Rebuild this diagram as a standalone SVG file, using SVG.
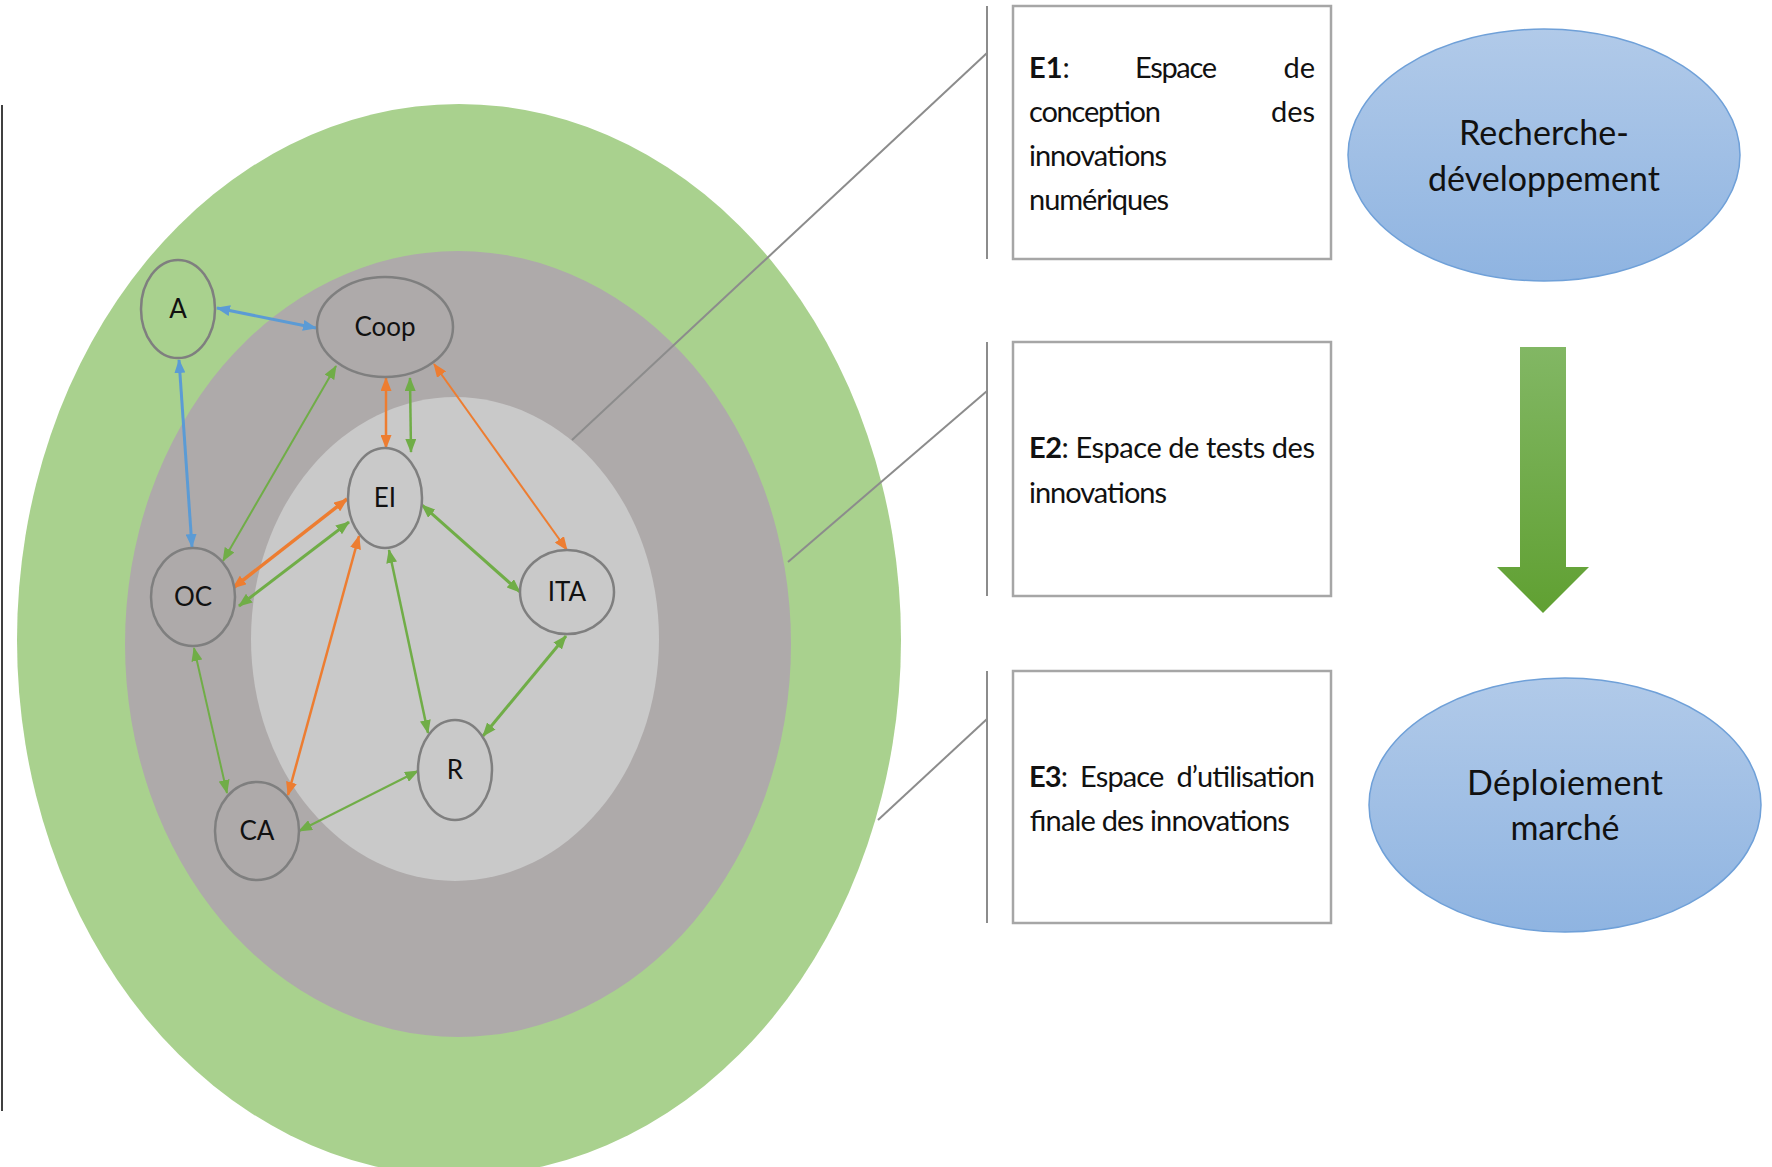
<svg xmlns="http://www.w3.org/2000/svg" width="1772" height="1167" viewBox="0 0 1772 1167">
  <defs>
    <style>
      .node { stroke: #7f7f7f; stroke-width: 2.5; }
      .lbl { font-family: Lato, "Liberation Sans", sans-serif; font-size: 26px; fill: #111; text-anchor: middle; }
      .bx { fill: #ffffff; stroke: #a6a6a6; stroke-width: 2.5; }
      .vl { stroke: #8c8c8c; stroke-width: 2; fill: none; }
      .tx { font-family: Lato, "Liberation Sans", sans-serif; font-size: 29px; fill: #111; }
      .big { font-family: Lato, "Liberation Sans", sans-serif; font-size: 34px; fill: #111; text-anchor: middle; }
      .cb { fill: none; stroke: #5b9bd5; marker-start: url(#mb); marker-end: url(#mb); }
      .cg { fill: none; stroke: #70ad47; marker-start: url(#mg); marker-end: url(#mg); }
      .co { fill: none; stroke: #ed7d31; marker-start: url(#mo); marker-end: url(#mo); }
    </style>
    <marker id="mb" viewBox="0 0 14 11" refX="13" refY="5.5" markerWidth="14" markerHeight="11" markerUnits="userSpaceOnUse" orient="auto-start-reverse"><path d="M0,0 L14,5.5 L0,11 z" fill="#5b9bd5"/></marker>
    <marker id="mg" viewBox="0 0 14 11" refX="13" refY="5.5" markerWidth="14" markerHeight="11" markerUnits="userSpaceOnUse" orient="auto-start-reverse"><path d="M0,0 L14,5.5 L0,11 z" fill="#70ad47"/></marker>
    <marker id="mo" viewBox="0 0 14 11" refX="13" refY="5.5" markerWidth="14" markerHeight="11" markerUnits="userSpaceOnUse" orient="auto-start-reverse"><path d="M0,0 L14,5.5 L0,11 z" fill="#ed7d31"/></marker>
    <linearGradient id="gBlue" x1="0" y1="0" x2="0" y2="1">
      <stop offset="0" stop-color="#b1cae9"/>
      <stop offset="1" stop-color="#8fb4e1"/>
    </linearGradient>
    <linearGradient id="gArrow" x1="0" y1="0" x2="0" y2="1">
      <stop offset="0" stop-color="#82b764"/>
      <stop offset="1" stop-color="#60a032"/>
    </linearGradient>
  </defs>

  <rect x="0" y="0" width="1772" height="1167" fill="#ffffff"/>

  <!-- left frame edge -->
  <line x1="2" y1="105" x2="2" y2="1111" stroke="#404040" stroke-width="2"/>

  <!-- concentric spaces -->
  <g id="spaces">
    <ellipse id="space-E3" cx="459" cy="640" rx="442" ry="536" fill="#a9d18e"/>
    <ellipse id="space-E2" cx="458" cy="644" rx="333" ry="393" fill="#aeaaaa"/>
    <ellipse id="space-E1" cx="455" cy="639" rx="204" ry="242" fill="#c9c9c9"/>
  </g>

  <!-- callout lines -->
  <g id="callouts">
    <line class="vl" x1="572" y1="440" x2="987" y2="53"/>
    <line class="vl" x1="788" y1="562" x2="987" y2="391"/>
    <line class="vl" x1="878" y1="820" x2="987" y2="719"/>
    <line class="vl" x1="987" y1="6" x2="987" y2="259"/>
    <line class="vl" x1="987" y1="342" x2="987" y2="596"/>
    <line class="vl" x1="987" y1="671" x2="987" y2="923"/>
  </g>

  <!-- connectors -->
  <g id="connectors">
    <line class="cb" stroke-width="3" x1="217" y1="308" x2="316" y2="328"/>
    <line class="cb" stroke-width="3" x1="179" y1="360" x2="192" y2="547"/>
    <line class="cg" stroke-width="2" x1="336" y1="366" x2="223" y2="561"/>
    <line class="cg" stroke-width="2.5" x1="410" y1="378" x2="411" y2="452"/>
    <line class="cg" stroke-width="3" x1="349" y1="522" x2="239" y2="606"/>
    <line class="cg" stroke-width="3" x1="422" y1="505" x2="520" y2="592"/>
    <line class="cg" stroke-width="2.5" x1="389" y1="550" x2="428" y2="733"/>
    <line class="cg" stroke-width="3" x1="566" y1="636" x2="483" y2="736"/>
    <line class="cg" stroke-width="2" x1="194" y1="648" x2="227" y2="793"/>
    <line class="cg" stroke-width="2" x1="299" y1="831" x2="418" y2="771"/>
    <line class="co" stroke-width="2.5" x1="386" y1="378" x2="386" y2="448"/>
    <line class="co" stroke-width="2" x1="434" y1="364" x2="567" y2="550"/>
    <line class="co" stroke-width="3.5" x1="347" y1="499" x2="233" y2="588"/>
    <line class="co" stroke-width="2.5" x1="359" y1="536" x2="288" y2="795"/>
  </g>

  <!-- nodes -->
  <g id="node-A"><ellipse class="node" cx="178" cy="309" rx="37" ry="49" fill="#a9d18e"/><text class="lbl" x="178" y="318">A</text></g>
  <g id="node-Coop"><ellipse class="node" cx="385" cy="327" rx="68" ry="50" fill="#aeaaaa"/><text class="lbl" x="385" y="336">Coop</text></g>
  <g id="node-EI"><ellipse class="node" cx="385" cy="498" rx="37" ry="50" fill="#c9c9c9"/><text class="lbl" x="385" y="507">EI</text></g>
  <g id="node-OC"><ellipse class="node" cx="193" cy="597" rx="42" ry="49" fill="#aeaaaa"/><text class="lbl" x="193" y="606">OC</text></g>
  <g id="node-ITA"><ellipse class="node" cx="567" cy="592" rx="47" ry="42" fill="#c9c9c9"/><text class="lbl" x="567" y="601">ITA</text></g>
  <g id="node-R"><ellipse class="node" cx="455" cy="770" rx="37" ry="50" fill="#c9c9c9"/><text class="lbl" x="455" y="779">R</text></g>
  <g id="node-CA"><ellipse class="node" cx="257" cy="831" rx="42" ry="49" fill="#aeaaaa"/><text class="lbl" x="257" y="840">CA</text></g>

  <!-- description boxes -->
  <g id="box-E1">
    <rect class="bx" x="1013" y="6" width="318" height="253"/>
    <text class="tx" x="1029" y="78"><tspan font-weight="bold">E1</tspan>:</text>
    <text class="tx" x="1135" y="78" textLength="82">Espace</text>
    <text class="tx" x="1315" y="78" text-anchor="end">de</text>
    <text class="tx" x="1029" y="122" textLength="132">conception</text>
    <text class="tx" x="1315" y="122" text-anchor="end">des</text>
    <text class="tx" x="1029" y="166" textLength="138">innovations</text>
    <text class="tx" x="1029" y="210" textLength="140">numériques</text>
  </g>
  <g id="box-E2">
    <rect class="bx" x="1013" y="342" width="318" height="254"/>
    <text class="tx" x="1029" y="458" textLength="286"><tspan font-weight="bold">E2</tspan>: Espace de tests des</text>
    <text class="tx" x="1029" y="503" textLength="138">innovations</text>
  </g>
  <g id="box-E3">
    <rect class="bx" x="1013" y="671" width="318" height="252"/>
    <text class="tx" x="1029" y="787" textLength="286" xml:space="preserve"><tspan font-weight="bold">E3</tspan>:  Espace  d’utilisation</text>
    <text class="tx" x="1029" y="831" textLength="260">finale des innovations</text>
  </g>

  <!-- phases -->
  <g id="phase-rd">
    <ellipse cx="1544" cy="155" rx="196" ry="126" fill="url(#gBlue)" stroke="#6fa0d8" stroke-width="1.5"/>
    <text class="big" x="1544" y="145" textLength="170">Recherche-</text>
    <text class="big" x="1544" y="191" textLength="232">développement</text>
  </g>
  <g id="phase-arrow">
    <path d="M1520,347 H1566 V567 H1589 L1543,613 L1497,567 H1520 Z" fill="url(#gArrow)"/>
  </g>
  <g id="phase-market">
    <ellipse cx="1565" cy="805" rx="196" ry="127" fill="url(#gBlue)" stroke="#6fa0d8" stroke-width="1.5"/>
    <text class="big" x="1565" y="795" textLength="196">Déploiement</text>
    <text class="big" x="1565" y="840" textLength="109">marché</text>
  </g>
</svg>
